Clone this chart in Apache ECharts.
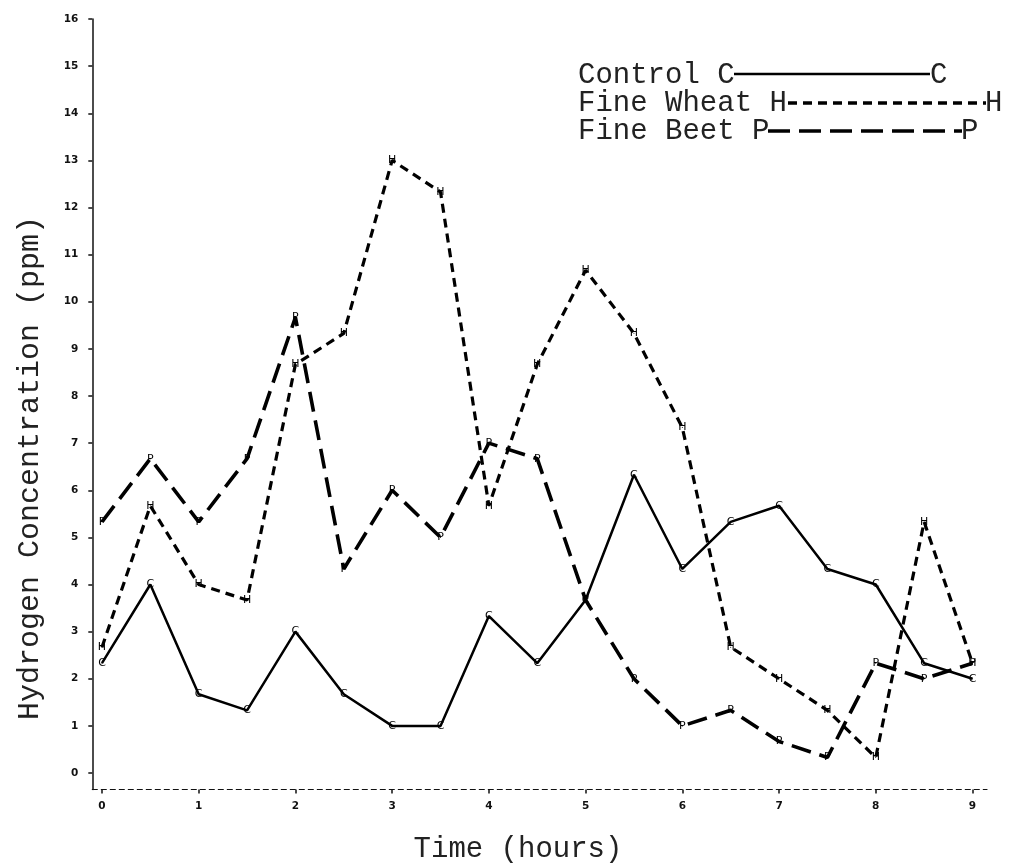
<!DOCTYPE html>
<html>
<head>
<meta charset="utf-8">
<script src="https://cdn.jsdelivr.net/npm/echarts@6/dist/echarts.min.js"></script>
<style>
  html, body { margin: 0; padding: 0; background: #fff; }
  #chart { width: 1014px; height: 867px; }
</style>
</head>
<body>
<div id="chart"></div>
<script>
// half-hour sampling times
const hours = [0, 0.5, 1, 1.5, 2, 2.5, 3, 3.5, 4, 4.5, 5, 5.5, 6, 6.5, 7, 7.5, 8, 8.5, 9];

const control = [2.33, 4.0, 1.67, 1.33, 3.0, 1.67, 1.0, 1.0, 3.33, 2.33, 3.67, 6.33, 4.33, 5.33, 5.67, 4.33, 4.0, 2.33, 2.0];
const fineWheat = [2.67, 5.67, 4.0, 3.67, 8.67, 9.33, 13.0, 12.33, 5.67, 8.67, 10.67, 9.33, 7.33, 2.67, 2.0, 1.33, 0.33, 5.33, 2.33];
const fineBeet = [5.33, 6.67, 5.33, 6.67, 9.67, 4.33, 6.0, 5.0, 7.0, 6.67, 3.67, 2.0, 1.0, 1.33, 0.67, 0.33, 2.33, 2.0, 2.33];

const xTicks = [0, 1, 2, 3, 4, 5, 6, 7, 8, 9];
const yTicks = [0, 1, 2, 3, 4, 5, 6, 7, 8, 9, 10, 11, 12, 13, 14, 15, 16];

const mono = "'Liberation Mono', 'DejaVu Sans Mono', monospace";
const tickFont = { fontFamily: "'DejaVu Sans', sans-serif", fontWeight: "bold", fontSize: 10.5, color: "#111" };

function pairs(values) {
  return hours.map((h, i) => [h, values[i]]);
}

function lineSeries(name, values, letter, lineType, width) {
  return {
    name,
    type: "line",
    data: pairs(values),
    symbol: "circle",
    symbolSize: 1,
    itemStyle: { color: "#000" },
    lineStyle: { color: "#000", width, type: lineType },
    label: {
      show: true,
      position: "inside",
      formatter: letter,
      fontFamily: "'DejaVu Sans', sans-serif",
      fontSize: 11,
      color: "#000",
    },
    animation: false,
    z: 3,
  };
}

const chart = echarts.init(document.getElementById("chart"));

chart.setOption({
  backgroundColor: "#fff",
  animation: false,
  grid: { left: 92.3, right: 27, top: 19, bottom: 77.5, containLabel: false },
  xAxis: {
    type: "value",
    min: -0.1,
    max: 9.15,
    splitLine: { show: false },
    axisLine: { onZero: false, lineStyle: { color: "#111", width: 1.2, type: [5, 4] } },
    axisTick: { show: true, customValues: xTicks, length: 4, lineStyle: { color: "#111", width: 1.5 } },
    axisLabel: { customValues: xTicks, margin: 11, ...tickFont },
  },
  yAxis: {
    type: "value",
    min: -0.35,
    max: 16,
    splitLine: { show: false },
    axisLine: { show: true, onZero: false, lineStyle: { color: "#111", width: 1.5 } },
    axisTick: { show: true, customValues: yTicks, length: 4, lineStyle: { color: "#111", width: 1.5 } },
    axisLabel: { customValues: yTicks, margin: 14, ...tickFont },
  },
  graphic: [
    {
      type: "text",
      x: 30,
      y: 468,
      rotation: Math.PI / 2,
      style: {
        text: "Hydrogen Concentration (ppm)",
        font: "30px " + mono,
        fill: "#222",
        align: "center",
        verticalAlign: "middle",
      },
    },
    {
      type: "text",
      x: 518,
      y: 849,
      style: {
        text: "Time (hours)",
        font: "29px " + mono,
        fill: "#222",
        align: "center",
        verticalAlign: "middle",
      },
    },
    // legend
    { type: "text", x: 578, y: 75, style: { text: "Control C", font: "29px " + mono, fill: "#222", verticalAlign: "middle" } },
    { type: "line", shape: { x1: 734, y1: 74, x2: 930, y2: 74 }, style: { stroke: "#000", lineWidth: 2.5 } },
    { type: "text", x: 930, y: 75, style: { text: "C", font: "29px " + mono, fill: "#222", verticalAlign: "middle" } },
    { type: "text", x: 578, y: 103, style: { text: "Fine Wheat H", font: "29px " + mono, fill: "#222", verticalAlign: "middle" } },
    { type: "line", shape: { x1: 788, y1: 103, x2: 986, y2: 103 }, style: { stroke: "#000", lineWidth: 3.5, lineDash: [9, 6] } },
    { type: "text", x: 985, y: 103, style: { text: "H", font: "29px " + mono, fill: "#222", verticalAlign: "middle" } },
    { type: "text", x: 578, y: 131, style: { text: "Fine Beet P", font: "29px " + mono, fill: "#222", verticalAlign: "middle" } },
    { type: "line", shape: { x1: 768, y1: 131, x2: 962, y2: 131 }, style: { stroke: "#000", lineWidth: 3.5, lineDash: [22, 9] } },
    { type: "text", x: 961, y: 131, style: { text: "P", font: "29px " + mono, fill: "#222", verticalAlign: "middle" } },
  ],
  series: [
    lineSeries("Control", control, "C", "solid", 2.5),
    lineSeries("Fine Wheat", fineWheat, "H", [9, 6], 3.2),
    lineSeries("Fine Beet", fineBeet, "P", [20, 9], 3.6),
  ],
});
</script>
</body>
</html>
